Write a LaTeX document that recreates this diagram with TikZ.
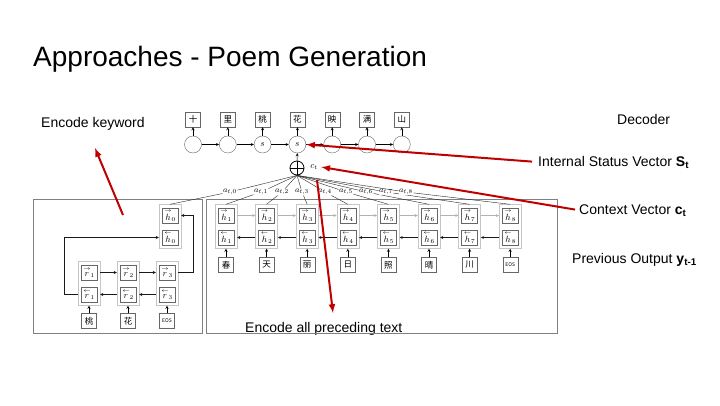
\documentclass[tikz,border=0pt]{standalone}
\usepackage{amsmath}
\usepackage[no-math]{fontspec}
\setmainfont{Liberation Sans}
\newfontfamily\cjk{Noto Sans CJK SC}
\usetikzlibrary{arrows}
\usetikzlibrary{positioning}

\definecolor{hlred}{RGB}{192,0,0}
\newcommand{\fw}[1]{\overset{\rightarrow}{#1}}
\newcommand{\bw}[1]{\overset{\leftarrow}{#1}}

\begin{document}
\begin{tikzpicture}[x=1pt,y=-1pt,>=stealth,
  box/.style={draw=gray!80!black,fill=white,minimum size=15pt,inner sep=0pt,font=\cjk\fontsize{8.5}{9}\selectfont},
  cell/.style={draw=gray!80!black,fill=white,minimum width=16pt,minimum height=15pt,inner sep=0pt,font=\small},
  pair/.style={draw=gray!45,minimum width=22pt,minimum height=44pt,inner sep=0pt},
  state/.style={circle,draw=gray!80!black,minimum size=17pt,inner sep=0pt,font=\small},
  wt/.style={fill=white,inner sep=0.4pt,font=\footnotesize},
  panel/.style={draw=gray,line width=0.8pt},
  note/.style={anchor=base west,inner sep=0pt,font=\fontsize{14}{16}\selectfont},
  hl/.style={draw=hlred,line width=2pt,-latex}]
  \useasboundingbox[fill=white] (0,0) rectangle (720,405);

  \node[note,font=\fontsize{28}{32}\selectfont] (title) at (33,66) {Approaches - Poem Generation};
  \node[note] (kw) at (41,127) {Encode keyword};
  \node[note] (dec) at (617,124) {Decoder};
  \node[note] (status) at (538,166) {Internal Status Vector \textbf{S\textsubscript{t}}};
  \node[note] (ctxt) at (579,214) {Context Vector \textbf{c\textsubscript{t}}};
  \node[note] (prev) at (572,263) {Previous Output \textbf{y\textsubscript{t-1}}};
  \node[note] (encall) at (245,332) {Encode all preceding text};

  \draw[panel] (33,199) rectangle (202,333);
  \draw[panel] (206,199) rectangle (557,333);

  \foreach \c/\s [count=\i, evaluate=\i as \x using 158.2+34.8*\i] in
      {十/,里/,桃/$s$,花/$s$,映/,满/,山/} {
    \node[box] (o\i) at (\x,119.5) {\c};
    \node[state] (s\i) at (\x,144.5) {\s};
    \draw[->] (s\i) -- (o\i);
  }
  \foreach \i [count=\j from 2] in {1,...,6}
    \draw[->] (s\i) -- (s\j);

  \node[circle,draw,thick,minimum size=14pt,inner sep=0pt] (sum) at (297,168) {};
  \draw[thick] (sum.north) -- (sum.south) (sum.west) -- (sum.east);
  \node[font=\small] (ct) at (314,167) {$c_t$};
  \draw[->] (sum) -- (s4);

  \foreach \c [count=\j, evaluate=\j as \x using 185.4+40.6*\j] in
      {春,天,丽,日,照,晴,川,{\tiny EOS}} {
    \node[pair] (hc\j) at (\x,226.5) {};
    \node[cell] (hf\j) at (\x,215.5) {$\fw{h}_{\j}$};
    \node[cell] (hb\j) at (\x,237.5) {$\bw{h}_{\j}$};
    \node[box] (w\j) at (\x,265) {\c};
    \draw[->] (w\j) -- (hc\j);
  }
  \foreach \i [count=\j from 2] in {1,...,7} {
    \draw[->,gray!60] (hc\i.east |- hf\i) -- (hc\j.west |- hf\j);
    \draw[->,gray!20!black] (hc\j.west |- hb\j) -- (hc\i.east |- hb\i);
  }

  \node[pair] (hc0) at (170,226.5) {};
  \node[cell] (hf0) at (170,215.5) {$\fw{h}_0$};
  \node[cell] (hb0) at (170,237.5) {$\bw{h}_0$};
  \foreach \c [count=\j, evaluate=\j as \x using 50+39*\j] in {桃,花,{\tiny EOS}} {
    \node[pair] (rc\j) at (\x,283.5) {};
    \node[cell] (rf\j) at (\x,272.5) {$\fw{r}_{\j}$};
    \node[cell] (rb\j) at (\x,294.5) {$\bw{r}_{\j}$};
    \node[box] (k\j) at (\x,321) {\c};
    \draw[->] (k\j) -- (rc\j);
  }
  \foreach \i [count=\j from 2] in {1,2} {
    \draw[->,gray!20!black] (rc\i.east |- rf\i) -- (rc\j.west |- rf\j);
    \draw[->,gray!20!black] (rc\j.west |- rb\j) -- (rc\i.east |- rb\i);
  }
  \draw[->,gray!20!black] (rc3.east |- rf3) -- ++(15,0) |- (hc0.east |- hf0);
  \draw[->,gray!20!black] (rc1.west |- rb1) -- ++(-14,0) |- (hc0.west |- hb0);

  \foreach \x [count=\i from 0] in {230,261,282,302,325,346,366,386,406} {
    \node[wt] (a\i) at (\x,192) {$a_{t,\i}$};
    \draw[gray!30!black] (sum.south) -- (a\i) -- (hc\i.north);
  }

  \coordinate (kwtail) at (123,215);
  \coordinate (kwtip) at (95,148);
  \coordinate (enctail) at (317,180);
  \coordinate (enctip) at (333,313);
  \draw[hl] (kwtail) -- (kwtip);
  \draw[hl,shorten <=6pt] (status.west) -- (s4.east);
  \draw[hl,shorten <=4pt] (ctxt.west) -- (ct.east);
  \draw[hl] (enctail) -- (enctip);
\end{tikzpicture}
\end{document}
